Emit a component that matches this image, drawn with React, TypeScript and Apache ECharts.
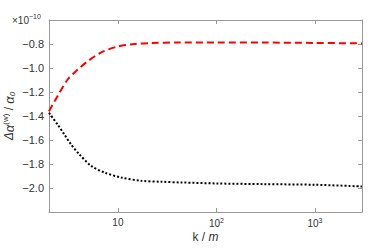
import React, { useEffect, useRef } from "react";
import * as echarts from "echarts";

const kRed = [2, 2.44, 3.09, 3.91, 4.94, 6.78, 10, 14.8, 21.9, 40, 100, 300, 1000, 3000];
const valRed = [-1.36, -1.235, -1.096, -1.013, -0.944, -0.87, -0.82, -0.8, -0.792, -0.787, -0.787, -0.788, -0.791, -0.795];
const kBlack = [2, 2.44, 2.86, 3.34, 4.06, 5.36, 7.31, 10.8, 17.3, 27.7, 44.4, 100, 300, 1000, 3000];
const valBlack = [-1.373, -1.47, -1.553, -1.636, -1.719, -1.816, -1.871, -1.912, -1.94, -1.948, -1.954, -1.962, -1.968, -1.973, -1.987];
const xDecades = [10, 100, 1000];
const yShown = [-0.8, -1.0, -1.2, -1.4, -1.6, -1.8, -2.0];

const FONT = "Liberation Sans, Arial, sans-serif";
const AXIS = "#999999";
const TEXT = "#333333";

export default function App() {
  const ref = useRef<HTMLDivElement>(null);
  useEffect(() => {
    if (!ref.current) return;
    const chart = echarts.init(ref.current, undefined, { renderer: "svg" });
    const xLabel = (v: number) => {
      const i = xDecades.findIndex((d) => Math.abs(d - v) < 1e-6 * d);
      if (i < 0) return "";
      if (i === 0) return "{b|10}";
      return "{b|10}{s|" + (i + 1) + "}";
    };
    const yLabel = (v: number) => {
      const hit = yShown.find((t) => Math.abs(t - v) < 1e-6);
      if (hit === undefined) return "";
      return "\u2212" + Math.abs(hit).toFixed(1);
    };
    const common = {
      axisLine: { lineStyle: { color: AXIS, width: 1 } },
      axisTick: { inside: true, length: 4, lineStyle: { color: AXIS } },
      splitLine: { show: false },
      minorTick: { show: false },
    };
    chart.setOption({
      animation: false,
      textStyle: { fontFamily: FONT },
      grid: { left: 49, right: 20, top: 20, bottom: 36, containLabel: false, outerBoundsMode: "none" },
      xAxis: [
        {
          type: "log",
          min: 2,
          max: 3000,
          logBase: 10,
          ...common,
          axisLabel: {
            formatter: xLabel,
            margin: 5,
            color: TEXT,
            rich: {
              b: { fontSize: 10, fontFamily: FONT, color: TEXT },
              s: { fontSize: 7, fontFamily: FONT, color: TEXT, verticalAlign: "top", padding: [0, 0, 6, 0] },
            },
          },
          name: "{k|k / }{m|m}",
          nameLocation: "middle",
          nameGap: 19,
          nameMoveOverlap: false,
          nameTextStyle: {
            rich: {
              k: { fontSize: 12, fontFamily: FONT, color: TEXT },
              m: { fontSize: 12, fontFamily: FONT, color: TEXT, fontStyle: "italic" },
            },
          },
        },
        {
          type: "log",
          min: 2,
          max: 3000,
          logBase: 10,
          position: "top",
          ...common,
          axisLabel: { show: false },
        },
      ],
      yAxis: [
        {
          type: "value",
          min: -2.2,
          max: -0.6,
          interval: 0.2,
          ...common,
          axisLabel: { formatter: yLabel, margin: 5, color: TEXT, fontSize: 11, fontFamily: FONT },
          name: "{d|\u0394}{a|\u03b1}{sup|(w)}{n| / }{a|\u03b1}{sub|0}",
          nameLocation: "middle",
          nameRotate: 90,
          nameGap: 32,
          nameMoveOverlap: false,
          nameTextStyle: {
            rich: {
              d: { fontSize: 12, fontFamily: FONT, color: TEXT, fontStyle: "italic" },
              a: { fontSize: 13, fontFamily: FONT, color: TEXT, fontStyle: "italic" },
              n: { fontSize: 12, fontFamily: FONT, color: TEXT },
              sup: { fontSize: 8, fontFamily: FONT, color: TEXT, padding: [0, 0, 8, 0] },
              sub: { fontSize: 8, fontFamily: FONT, color: TEXT, fontStyle: "italic", padding: [6, 0, 0, 0] },
            },
          },
        },
        {
          type: "value",
          min: -2.2,
          max: -0.6,
          interval: 0.2,
          position: "right",
          ...common,
          axisLabel: { show: false },
        },
      ],
      graphic: [
        {
          type: "text",
          left: 12,
          top: 13,
          style: {
            text: "{x|\u00d710}{e|\u221210}",
            rich: {
              x: { fontSize: 10, fontFamily: FONT, fill: TEXT },
              e: { fontSize: 7, fontFamily: FONT, fill: TEXT, padding: [0, 0, 7, 0] },
            },
          },
        },
      ],
      series: [
        {
          type: "line",
          data: kRed.map((k, i) => [k, valRed[i]]),
          smooth: 0.3,
          showSymbol: false,
          symbol: "none",
          lineStyle: { color: "#ff0000", width: 2, type: [7, 4] },
        },
        {
          type: "line",
          data: kBlack.map((k, i) => [k, valBlack[i]]),
          smooth: 0.3,
          showSymbol: false,
          symbol: "none",
          lineStyle: { color: "#000000", width: 2, type: [2, 2] },
        },
      ],
    });
    return () => chart.dispose();
  }, []);
  return <div ref={ref} style={{ width: 382, height: 248, position: "absolute", left: 0, top: 0 }} />;
}
